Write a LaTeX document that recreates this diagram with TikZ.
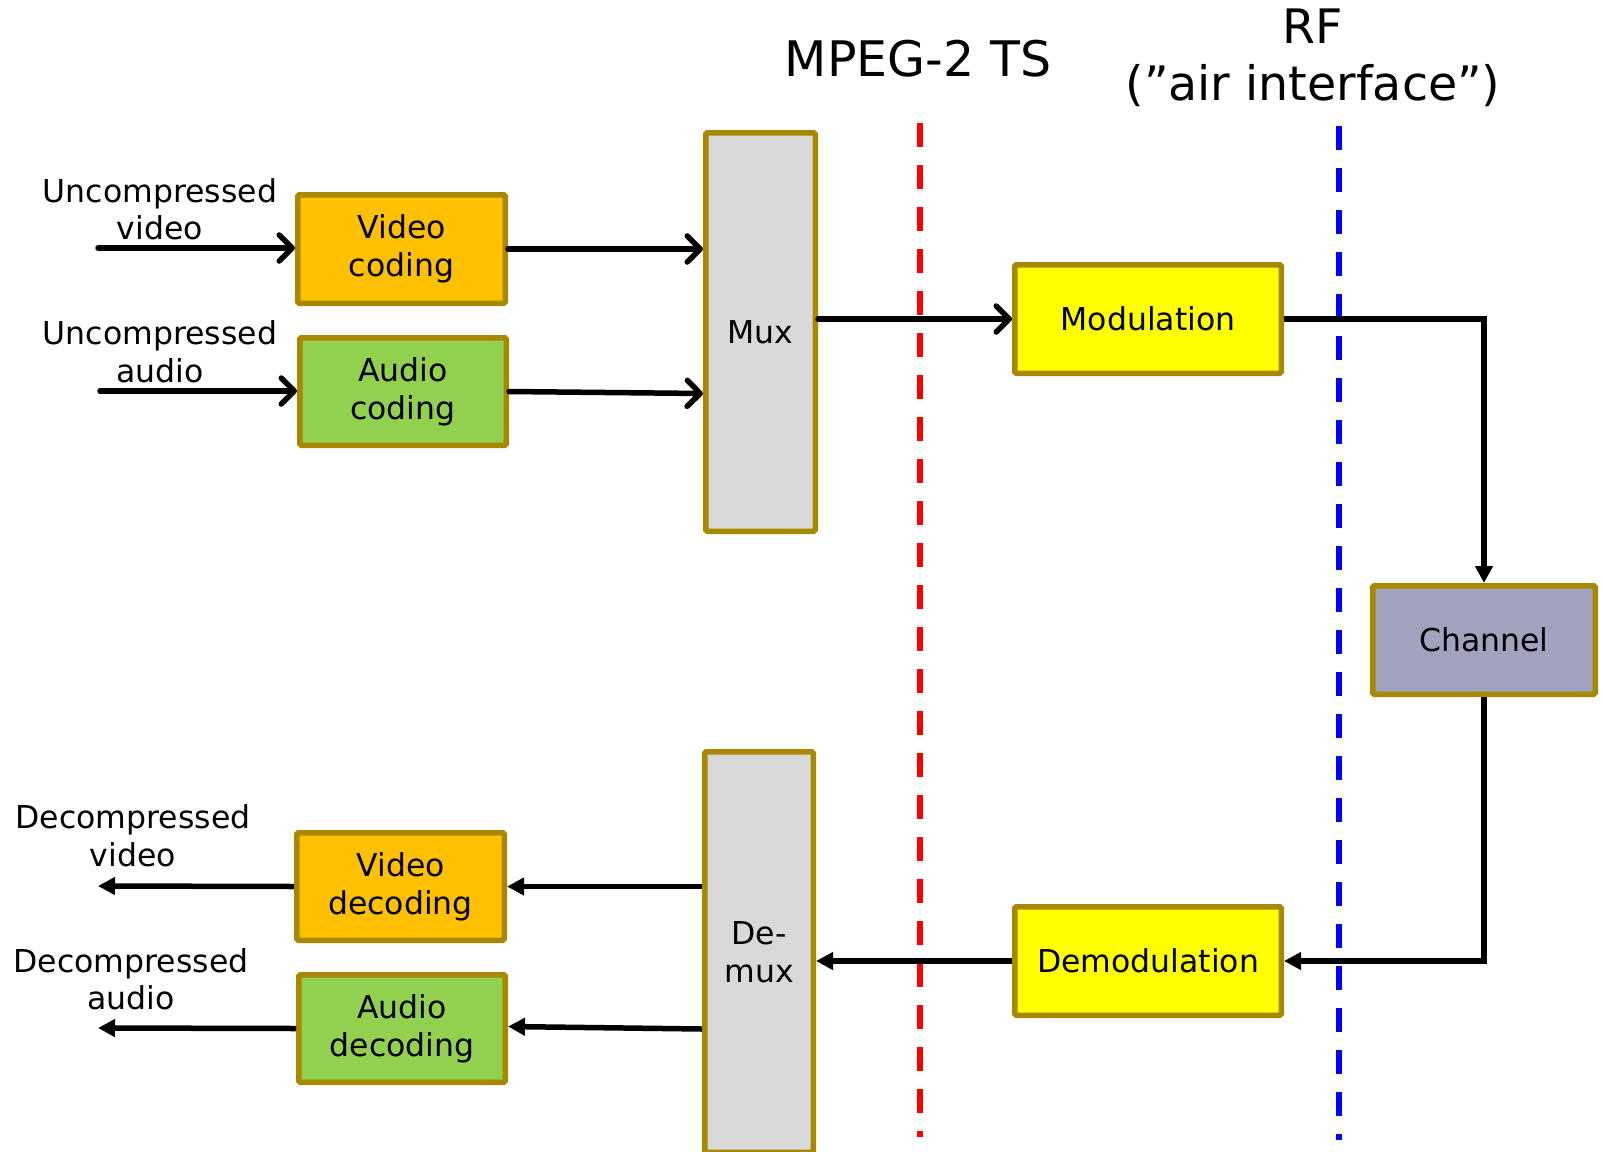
\documentclass[tikz,border=0pt]{standalone}
\usepackage{fontspec}
\setmainfont{DejaVu Sans}
\usetikzlibrary{arrows.meta}
\definecolor{boxline}{RGB}{168,136,0}
\definecolor{vidfill}{RGB}{255,192,0}
\definecolor{audfill}{RGB}{146,208,80}
\definecolor{muxfill}{RGB}{217,217,217}
\definecolor{modfill}{RGB}{255,255,0}
\definecolor{chanfill}{RGB}{162,162,190}
\begin{document}
\begin{tikzpicture}[x=1pt,y=-1pt,
  blk/.style={draw=boxline, line width=5.5pt, rounded corners=1.5pt, align=center,
    inner sep=0pt, font=\fontsize{31.5}{38}\selectfont},
  lbl/.style={align=center, inner sep=0pt, font=\fontsize{31.5}{37.5}\selectfont},
  barbarrow/.style={line width=5.5pt, line cap=round,
    -{Straight Barb[length=13pt,width=26pt,line cap=round,line join=round]}},
  triarrow/.style={line width=5.5pt, -{Triangle[length=17pt,width=17pt]}},
  boundary/.style={line width=5.5pt, dash pattern=on 24pt off 18pt}]
\clip (0,0) rectangle (1603,1151);
\fill[white] (0,0) rectangle (1603,1151);

% interface boundaries
\coordinate (tsTop) at (920,123);
\coordinate (tsBot) at (920,1137);
\coordinate (rfTop) at (1339,126);
\coordinate (rfBot) at (1339,1140);
\draw[boundary, red] (tsTop) -- (tsBot);
\draw[boundary, blue] (rfTop) -- (rfBot);

\node[lbl, font=\fontsize{49}{57}\selectfont] (tslabel) at (918,59) {MPEG-2 TS};
\node[lbl, font=\fontsize{47.5}{57}\selectfont] (rflabel) at (1313,58) {RF\\(”air interface”)};

% transmitter side
\node[blk, fill=vidfill, minimum width=207.5pt, minimum height=108.5pt] (vcod) at (401.5,249) {Video\\coding};
\node[blk, fill=audfill, minimum width=206.5pt, minimum height=107.5pt] (acod) at (403,391.5) {Audio\\coding};
\node[blk, fill=muxfill, minimum width=109.5pt, minimum height=398.5pt] (mux) at (760.5,332) {Mux};
\node[blk, fill=modfill, minimum width=266.5pt, minimum height=108.5pt] (mod) at (1148,319) {Modulation};
\node[blk, fill=chanfill, minimum width=222.5pt, minimum height=108.5pt] (chan) at (1484,640) {Channel};

% receiver side
\node[blk, fill=modfill, minimum width=266.5pt, minimum height=108.5pt] (demod) at (1148,961) {Demodulation};
\node[blk, fill=muxfill, minimum width=108.5pt, minimum height=400.5pt] (demux) at (759,952) {De-\\mux};
\node[blk, fill=vidfill, minimum width=207.5pt, minimum height=107.5pt] (vdec) at (400.5,886.5) {Video\\decoding};
\node[blk, fill=audfill, minimum width=206.5pt, minimum height=107.5pt] (adec) at (402,1028.5) {Audio\\decoding};

% signal labels
\node[lbl] (uvid) at (160,209.5) {Uncompressed\\video};
\node[lbl] (uaud) at (160,352) {Uncompressed\\audio};
\node[lbl] (dvid) at (133,835.5) {Decompressed\\video};
\node[lbl] (daud) at (131,979) {Decompressed\\audio};

\coordinate (uvidIn) at (98,248);
\coordinate (uaudIn) at (100,391);
\coordinate (dvidOut) at (98,886);
\coordinate (daudOut) at (98,1028);

% forward path
\draw[barbarrow] (uvidIn) -- (vcod.west |- uvidIn);
\draw[barbarrow] (uaudIn) -- (acod.west |- uaudIn);
\draw[barbarrow] (vcod.east) -- (mux.west |- vcod.east);
\draw[barbarrow] (acod.east) -- ([yshift=-2pt]mux.west |- acod.east);
\draw[barbarrow] (mux.east |- mod.west) -- (mod.west);
\draw[triarrow] (mod.east) -| (chan.north);

% return path
\draw[triarrow] (chan.south) |- (demod.east);
\draw[triarrow] (demod.west) -- (demux.east |- demod.west);
\draw[triarrow] (demux.west |- vdec.east) -- (vdec.east);
\draw[triarrow] ([yshift=-0.5pt]demux.west |- adec.east) -- ([yshift=2pt]adec.east);
\draw[triarrow] (vdec.west) -- (dvidOut);
\draw[triarrow] (adec.west) -- (daudOut);
\end{tikzpicture}
\end{document}
